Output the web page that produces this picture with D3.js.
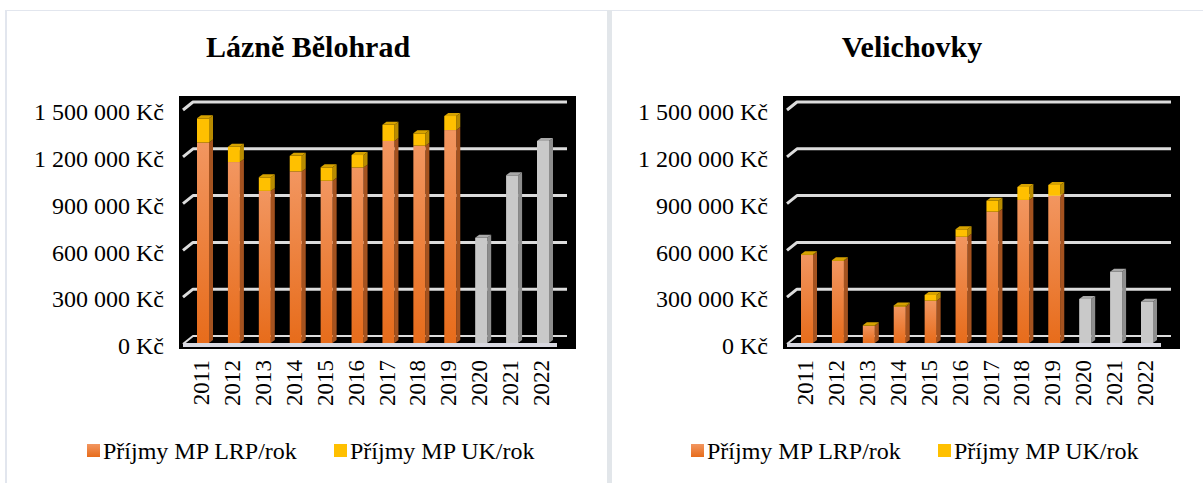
<!DOCTYPE html>
<html>
<head>
<meta charset="utf-8">
<script src="https://cdn.jsdelivr.net/npm/d3@7"></script>
<style>
  body { margin: 0; background: #fff; }
  text { font-family: "Liberation Serif", "Times New Roman", serif; fill: #000; }
</style>
</head>
<body>
<div class="chart"></div>
<script>
const years = ['2011','2012','2013','2014','2015','2016','2017','2018','2019','2020','2021','2022'];
const greyYears = ['2020','2021','2022'];
const yTicks = [0, 300000, 600000, 900000, 1200000, 1500000];
const seriesNames = ['Příjmy MP LRP/rok', 'Příjmy MP UK/rok'];

// Lázně Bělohrad
const lbLRP = [1285000, 1160000, 975000, 1100000, 1040000, 1125000, 1295000, 1265000, 1365000, 675000, 1075000, 1295000];
const lbUK  = [155000, 98000, 87000, 100000, 86000, 80000, 104000, 79000, 90000, 0, 0, 0];

// Velichovky
const vLRP = [564000, 526000, 109000, 233000, 271000, 681000, 842000, 917000, 944000, 282000, 457000, 265000];
const vUK  = [5000, 5000, 4000, 8000, 37000, 48000, 70000, 83000, 69000, 0, 0, 0];

const W = 1203, H = 483;
const depthX = 4, depthY = 3;      // bar depth
const wallX = 10, wallY = 7;       // grid depth
const barW = 12;

const svg = d3.select('.chart').append('svg')
    .attr('width', W)
    .attr('height', H);

const defs = svg.append('defs');
const og = defs.append('linearGradient').attr('id', 'orangeGrad')
    .attr('x1', 0).attr('y1', 0).attr('x2', 0).attr('y2', 1);
og.append('stop').attr('offset', '0%').attr('stop-color', '#f29660');
og.append('stop').attr('offset', '100%').attr('stop-color', '#e76c1b');

// panel frames
svg.append('line').attr('x1', 6).attr('y1', 10.5).attr('x2', W).attr('y2', 10.5)
    .style('stroke', '#e2e6ee').style('stroke-width', 1);
svg.append('rect').attr('x', 5).attr('y', 10).attr('width', 2).attr('height', H)
    .attr('fill', '#e2e6ee');
svg.append('rect').attr('x', 607).attr('y', 10).attr('width', 5).attr('height', H)
    .attr('fill', '#e2e6ea');

const kc = d3.formatLocale({decimal: ',', thousands: '\u00a0', grouping: [3], currency: ['', '\u00a0Kč']});

function drawPanel(ox, title, lrp, uk) {
    const g = svg.append('g').attr('transform', `translate(${ox},0)`);

    const y = d3.scaleLinear().domain([0, 1500000]).range([343, 109]);
    const x = d3.scalePoint().domain(years).range([203, 543]);

    g.append('text')
        .attr('x', 308).attr('y', 57)
        .style('text-anchor', 'middle')
        .style('font-size', '30px')
        .style('font-weight', 'bold')
        .text(title);

    // plot area
    g.append('rect').attr('x', 179).attr('y', 96).attr('width', 397).attr('height', 253)
        .attr('fill', '#000');

    // gridlines on the back wall with slanted side part
    const grid = g.append('g');
    yTicks.forEach(v => {
        const yy = y(v) - wallY;
        grid.append('path')
            .attr('d', `M183,${y(v) + 1} L${183 + wallX},${yy} L567,${yy}`)
            .attr('fill', 'none')
            .style('stroke', '#dcdcdc')
            .style('stroke-width', v === 0 ? 2 : 3)
            .style('stroke-linejoin', 'round');
    });
    // floor front edge
    grid.append('line')
        .attr('x1', 183).attr('y1', y(0) + 2).attr('x2', 557).attr('y2', y(0) + 2)
        .style('stroke', '#d8d8e0').style('stroke-width', 4);

    // bars
    const rows = years.map((yr, i) => ({yr, lrp: lrp[i], uk: uk[i], grey: greyYears.includes(yr)}));
    const bars = g.selectAll('g.bar').data(rows).enter().append('g').attr('class', 'bar');

    bars.each(function(d) {
        const b = d3.select(this);
        const x0 = x(d.yr) - barW / 2;
        const segs = [{v0: 0, v1: d.lrp, front: d.grey ? '#c9c9c9' : 'url(#orangeGrad)', side: d.grey ? '#8e8e8e' : '#a4521f', top: d.grey ? '#a9a9a9' : '#c8692c'}];
        if (d.uk > 0) segs.push({v0: d.lrp, v1: d.lrp + d.uk, front: '#ffc000', side: '#b88b00', top: '#d6a200'});
        segs.forEach((s, k) => {
            const yt = y(s.v1), yb = y(s.v0);
            b.append('polygon')
                .attr('points', `${x0 + barW},${yb} ${x0 + barW + depthX},${yb - depthY} ${x0 + barW + depthX},${yt - depthY} ${x0 + barW},${yt}`)
                .attr('fill', s.side);
            b.append('rect')
                .attr('x', x0).attr('y', yt).attr('width', barW).attr('height', yb - yt)
                .attr('fill', s.front);
            if (k === segs.length - 1) {
                b.append('polygon')
                    .attr('points', `${x0},${yt} ${x0 + depthX},${yt - depthY} ${x0 + barW + depthX},${yt - depthY} ${x0 + barW},${yt}`)
                    .attr('fill', s.top);
            }
        });
    });

    // y axis
    const ya = g.append('g').attr('transform', 'translate(164,3)')
        .call(d3.axisLeft(y).tickValues(yTicks).tickSize(0).tickPadding(0).tickFormat(kc.format('$,')));
    ya.select('.domain').remove();
    ya.selectAll('text').style('font-size', '24px').style('font-family', '"Liberation Serif", serif').attr('fill', '#000');

    // x axis
    const xa = g.append('g').attr('transform', 'translate(0,347)')
        .call(d3.axisBottom(x).tickSize(0));
    xa.select('.domain').remove();
    xa.selectAll('text')
        .attr('transform', 'rotate(-90)')
        .attr('x', -13).attr('y', -2.5).attr('dy', '0.35em')
        .style('text-anchor', 'end')
        .style('font-size', '23px')
        .style('font-family', '"Liberation Serif", serif')
        .attr('fill', '#000');

    // legend
    const leg = g.append('g');
    const legX = [87, 334];
    const legFill = ['url(#orangeGrad)', '#ffc000'];
    seriesNames.forEach((n, i) => {
        leg.append('rect').attr('x', legX[i]).attr('y', 444).attr('width', 13).attr('height', 13)
            .attr('fill', legFill[i]);
        leg.append('text').attr('x', legX[i] + 16).attr('y', 459)
            .style('font-size', '24px').text(n);
    });
}

drawPanel(0, 'Lázně Bělohrad', lbLRP, lbUK);
drawPanel(604, 'Velichovky', vLRP, vUK);
</script>
</body>
</html>
